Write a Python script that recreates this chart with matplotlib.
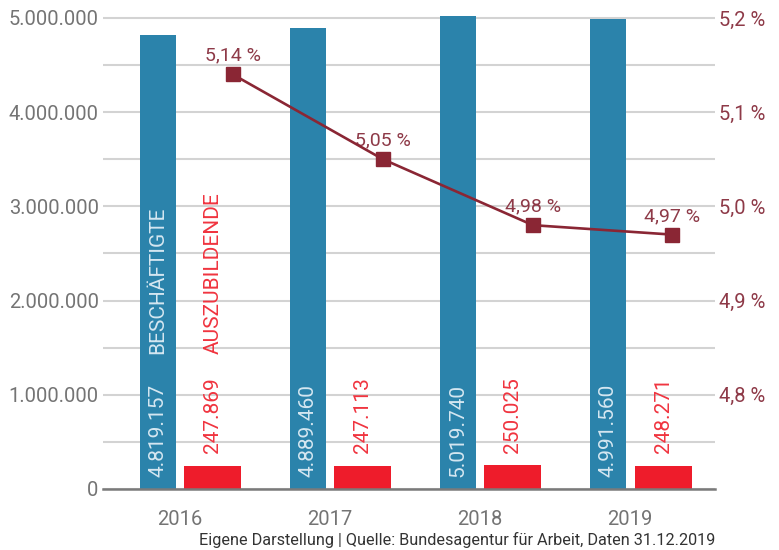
import numpy as np
import matplotlib
matplotlib.use("Agg")
import matplotlib.pyplot as plt
from matplotlib.ticker import FuncFormatter, MultipleLocator

plt.rcParams["font.family"] = ["Roboto", "DejaVu Sans"]

# data
years = ["2016", "2017", "2018", "2019"]
beschaeftigte = [4819157, 4889460, 5019740, 4991560]
azubis = [247869, 247113, 250025, 248271]
quote = [5.14, 5.05, 4.98, 4.97]

BLUE = "#2b83ab"
RED = "#ee1c2b"
WINE = "#8a2634"
WINE_TXT = "#8e3a48"
GREY = "#747474"
GRID = "#d3d3d3"


def de_num(v):
    return f"{v:,.0f}".replace(",", ".")


def de_pct(v, nd):
    return f"{v:.{nd}f} %".replace(".", ",")


fig = plt.figure(figsize=(7.79, 5.5), dpi=100)
ax = fig.add_axes([0.132, 0.111, 0.786, 0.865])

x = np.arange(len(years))
ax.bar(x - 0.147, beschaeftigte, width=0.24, color=BLUE, zorder=3)
ax.bar(x + 0.22, azubis, width=0.38, color=RED, zorder=3)

ax.set_xlim(-0.513, 3.567)
ax.set_ylim(0, 5.05e6)
ax.yaxis.set_major_locator(MultipleLocator(1e6))
ax.yaxis.set_minor_locator(MultipleLocator(5e5))
ax.yaxis.set_major_formatter(FuncFormatter(lambda v, p: de_num(v)))
ax.grid(axis="y", which="both", color=GRID, lw=1.5, zorder=0)
ax.set_axisbelow(True)
for s in ["top", "right", "left"]:
    ax.spines[s].set_visible(False)
ax.spines["bottom"].set_color("#7a7a7a")
ax.spines["bottom"].set_linewidth(1.8)
ax.spines["bottom"].set_zorder(4)
ax.tick_params(axis="y", which="both", length=0, pad=3, labelsize=14.5,
               labelcolor=GREY)
ax.set_xticks(x)
ax.set_xticklabels(years)
ax.tick_params(axis="x", length=0, pad=15, labelsize=14.5, labelcolor=GREY)

# values inside / above bars
for i in range(len(years)):
    ax.text(x[i] - 0.147, 1.27e5, de_num(beschaeftigte[i]), rotation=90,
            ha="center", va="bottom", color="#d5e7f1", fontsize=15, zorder=5)
    ax.text(x[i] + 0.22, 3.8e5, de_num(azubis[i]), rotation=90,
            ha="center", va="bottom", color="#f0343f", fontsize=15, zorder=5)
ax.text(x[0] - 0.147, 1.43e6, "BESCHÄFTIGTE", rotation=90, ha="center",
        va="bottom", color="#d5e7f1", fontsize=15, zorder=5)
ax.text(x[0] + 0.22, 1.43e6, "AUSZUBILDENDE", rotation=90, ha="center",
        va="bottom", color="#f0343f", fontsize=15, zorder=5)

# share line on second axis
ax2 = ax.twinx()
ax2.set_ylim(4.7, 4.7 + 0.505)
ax2.set_yticks([4.8, 4.9, 5.0, 5.1, 5.2])
ax2.yaxis.set_major_formatter(FuncFormatter(lambda v, p: de_pct(v, 1)))
ax2.tick_params(axis="y", length=0, pad=3, labelsize=14.5, labelcolor=WINE_TXT)
for s in ax2.spines.values():
    s.set_visible(False)

line_off = np.array([0.353, 0.353, 0.353, 0.28])
ax2.plot(x + line_off, quote, color=WINE, lw=1.9, marker="s", ms=10.5,
         zorder=6)
for i, q in enumerate(quote):
    ax2.annotate(de_pct(q, 2), (x[i] + line_off[i], q), xytext=(0, 7),
                 textcoords="offset points", ha="center", va="bottom",
                 color=WINE_TXT, fontsize=14)

fig.text(0.918, 0.004, "Eigene Darstellung | Quelle: Bundesagentur für Arbeit, Daten 31.12.2019",
         ha="right", va="bottom", fontsize=11.7, color="#333333")

fig.savefig("out.png", dpi=100)
